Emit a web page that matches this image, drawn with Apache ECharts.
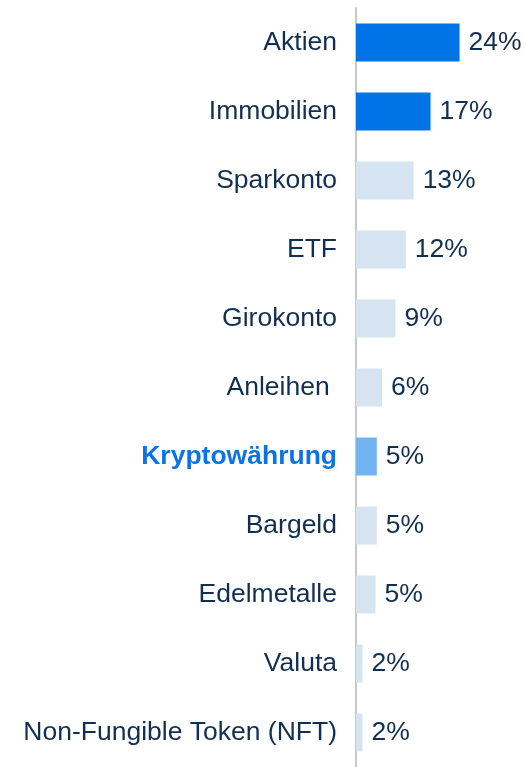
<!DOCTYPE html>
<html>
<head>
<meta charset="utf-8">
<script src="https://cdn.jsdelivr.net/npm/echarts@6/dist/echarts.min.js"></script>
<style>
  html, body { margin: 0; padding: 0; background: #fff; }
  #chart { width: 525px; height: 767px; }
</style>
</head>
<body>
<div id="chart"></div>
<script>
var categories = ['Aktien', 'Immobilien', 'Sparkonto', 'ETF', 'Girokonto', 'Anleihen ',
  'Kryptowährung', 'Bargeld', 'Edelmetalle', 'Valuta', 'Non-Fungible Token (NFT)'];
var values = [23.9, 17.2, 13.3, 11.5, 9.1, 6.0, 4.8, 4.8, 4.5, 1.5, 1.5];
var barColors = ['#0073e6', '#0073e6', '#d6e3f0', '#d6e3f0', '#d6e3f0', '#d6e3f0',
  '#72b3f2', '#d6e3f0', '#d6e3f0', '#d6e3f0', '#d6e3f0'];

var textColor = '#112f50';
var highlight = 'Kryptowährung';

var chartDom = document.getElementById('chart');
var myChart = echarts.init(chartDom);

var option = {
  animation: false,
  grid: { left: 356, right: 13, top: 8, bottom: 0, containLabel: false },
  xAxis: {
    type: 'value',
    min: 0,
    max: 36,
    show: false
  },
  yAxis: {
    type: 'category',
    inverse: true,
    offset: 1,
    data: categories.map(function (c) {
      if (c === highlight) {
        return { value: c, textStyle: { color: '#0a73e6', fontWeight: 'bold' } };
      }
      return c;
    }),
    axisLine: { show: true, lineStyle: { color: '#c8c8c8', width: 2 } },
    axisTick: { show: false },
    axisLabel: {
      margin: 18,
      fontSize: 26.5,
      padding: [4, 0, 0, 0],
      fontFamily: 'Arial, Liberation Sans, sans-serif',
      color: textColor
    }
  },
  series: [
    {
      type: 'bar',
      barWidth: 38,
      data: values.map(function (v, i) {
        return { value: v, itemStyle: { color: barColors[i] } };
      }),
      label: {
        show: true,
        position: 'right',
        distance: 9,
        fontSize: 26.5,
        padding: [4, 0, 0, 0],
        fontFamily: 'Arial, Liberation Sans, sans-serif',
        color: textColor,
        formatter: function (p) { return Math.round(p.value) + '%'; }
      }
    }
  ]
};

option && myChart.setOption(option);
</script>
</body>
</html>
